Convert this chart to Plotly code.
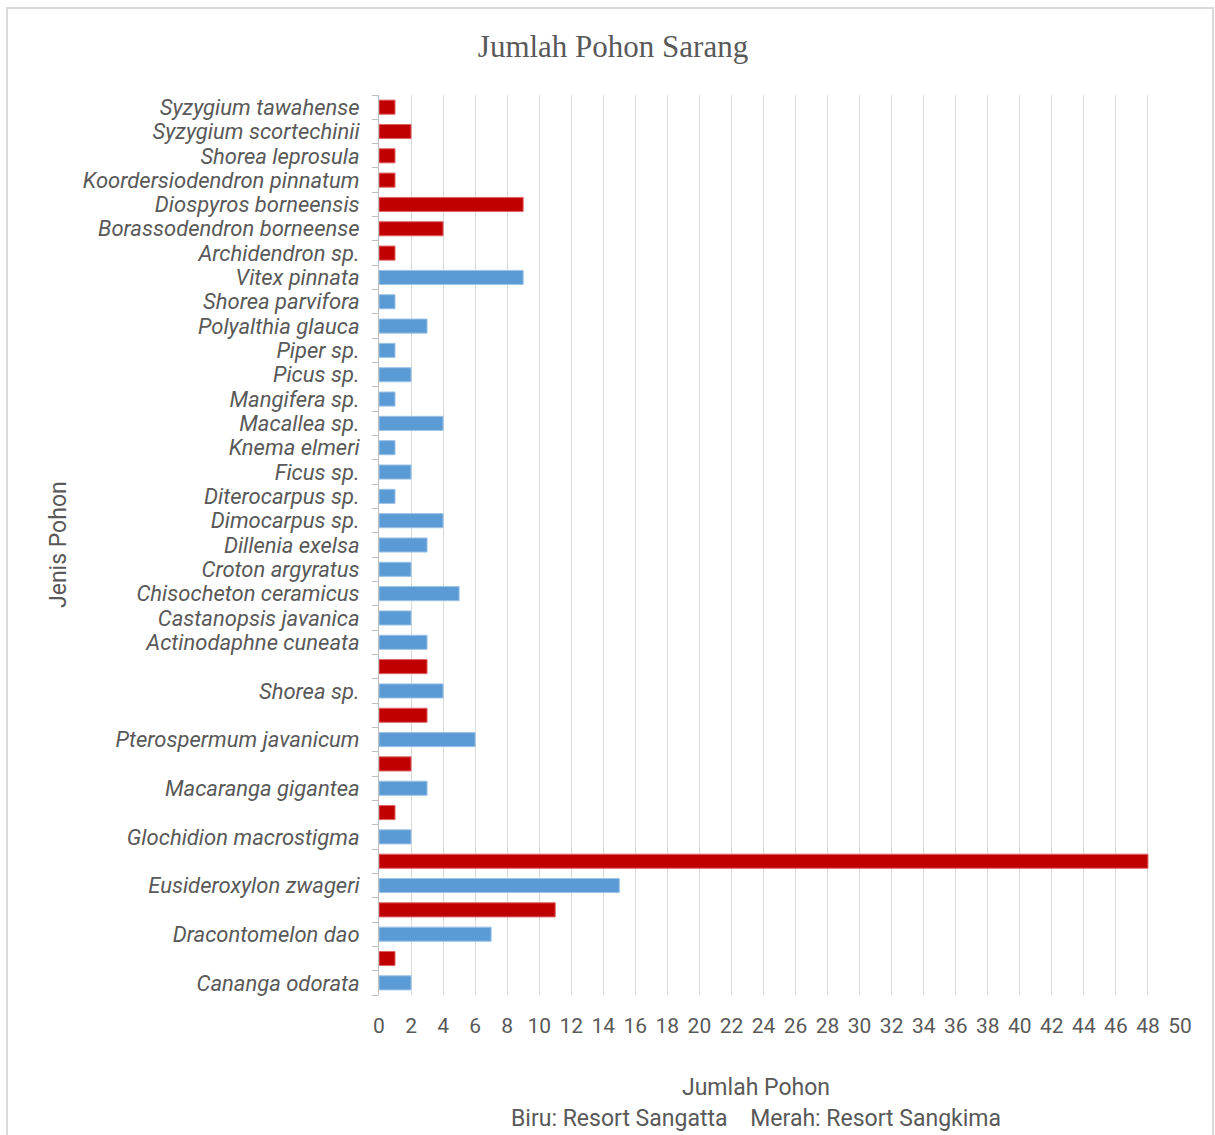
import plotly.graph_objects as go

# Rows from bottom to top; blank labels mark the unlabeled red rows
labels = [
    "Cananga odorata", " ",
    "Dracontomelon dao", "  ",
    "Eusideroxylon zwageri", "   ",
    "Glochidion macrostigma", "    ",
    "Macaranga gigantea", "     ",
    "Pterospermum javanicum", "      ",
    "Shorea sp.", "       ",
    "Actinodaphne cuneata", "Castanopsis javanica", "Chisocheton ceramicus",
    "Croton argyratus", "Dillenia exelsa", "Dimocarpus sp.", "Diterocarpus sp.",
    "Ficus sp.", "Knema elmeri", "Macallea sp.", "Mangifera sp.", "Picus sp.",
    "Piper sp.", "Polyalthia glauca", "Shorea parvifora", "Vitex pinnata",
    "Archidendron sp.", "Borassodendron borneense", "Diospyros borneensis",
    "Koordersiodendron pinnatum", "Shorea leprosula", "Syzygium scortechinii",
    "Syzygium tawahense",
]

# Biru: Resort Sangatta
sangatta = [
    2, None, 7, None, 15, None, 2, None, 3, None, 6, None, 4, None,
    3, 2, 5, 2, 3, 4, 1, 2, 1, 4, 1, 2, 1, 3, 1, 9,
    None, None, None, None, None, None, None,
]
# Merah: Resort Sangkima
sangkima = [
    None, 1, None, 11, None, 48, None, 1, None, 2, None, 3, None, 3,
    None, None, None, None, None, None, None, None, None, None, None, None,
    None, None, None, None,
    1, 4, 9, 1, 1, 2, 1,
]

x_ticks = list(range(0, 51, 2))

BLUE = "#5B9BD5"
RED = "#C00000"
GREY = "#595959"
FONT = "Roboto, Arial, sans-serif"

fig = go.Figure()
fig.add_trace(go.Bar(
    x=sangatta, y=labels, orientation="h", name="Resort Sangatta",
    marker=dict(color=BLUE, line=dict(color="#9DC3E6", width=1)), width=0.58,
))
fig.add_trace(go.Bar(
    x=sangkima, y=labels, orientation="h", name="Resort Sangkima",
    marker=dict(color=RED, line=dict(color="#E06666", width=1)), width=0.58,
))

L, R, T, B = 379, 35, 95, 140
W, H = 1215, 1135
pw, ph = W - L - R, H - T - B

def px_x(p):
    return (p - L) / pw

def px_y(p):
    return (H - B - p) / ph

fig.update_layout(
    width=W, height=H,
    margin=dict(l=L, r=R, t=T, b=B, autoexpand=False),
    paper_bgcolor="white", plot_bgcolor="white",
    barmode="overlay", showlegend=False,
    font=dict(family=FONT, color=GREY, size=20),
    title=dict(text="Jumlah Pohon Sarang", x=613 / W, xanchor="center",
               y=1 - 46 / H, yanchor="middle",
               font=dict(family="Liberation Serif, DejaVu Serif, serif", size=31, color=GREY)),
    xaxis=dict(
        range=[0, 50], tickvals=x_ticks, showgrid=True, gridcolor="#D9D9D9",
        gridwidth=1, zeroline=False, showline=False, ticks="",
        tickfont=dict(size=21, color=GREY), ticklabelstandoff=16,
        fixedrange=True,
    ),
    yaxis=dict(
        type="category", categoryorder="array", categoryarray=labels,
        tickmode="array", tickvals=labels, ticktext=labels,
        range=[-0.5, len(labels) - 0.5],
        showgrid=False, showline=True, linecolor="#BFBFBF", linewidth=1,
        ticks="outside", ticklen=6, tickcolor="#BFBFBF", tickson="boundaries",
        tickfont=dict(size=22, color=GREY, style="italic"), ticklabelstandoff=14,
    ),
    shapes=[dict(type="rect", xref="paper", yref="paper",
                 x0=px_x(7), x1=px_x(1213), y0=px_y(1140), y1=px_y(8),
                 line=dict(color="#D9D9D9", width=2), fillcolor="rgba(0,0,0,0)",
                 layer="below")],
    annotations=[
        dict(text="Jumlah Pohon", xref="paper", yref="paper",
             x=px_x(756), y=px_y(1087), xanchor="center", yanchor="middle",
             showarrow=False, font=dict(size=23, color=GREY)),
        dict(text="Biru: Resort Sangatta&nbsp;&nbsp;&nbsp;&nbsp;Merah: Resort Sangkima",
             xref="paper", yref="paper",
             x=px_x(756), y=px_y(1118), xanchor="center", yanchor="middle",
             showarrow=False, font=dict(size=23, color=GREY)),
        dict(text="Jenis Pohon", xref="paper", yref="paper",
             x=px_x(58), y=px_y(545), xanchor="center", yanchor="middle",
             textangle=-90, showarrow=False, font=dict(size=23, color=GREY)),
    ],
)

fig.write_html("out.html")
